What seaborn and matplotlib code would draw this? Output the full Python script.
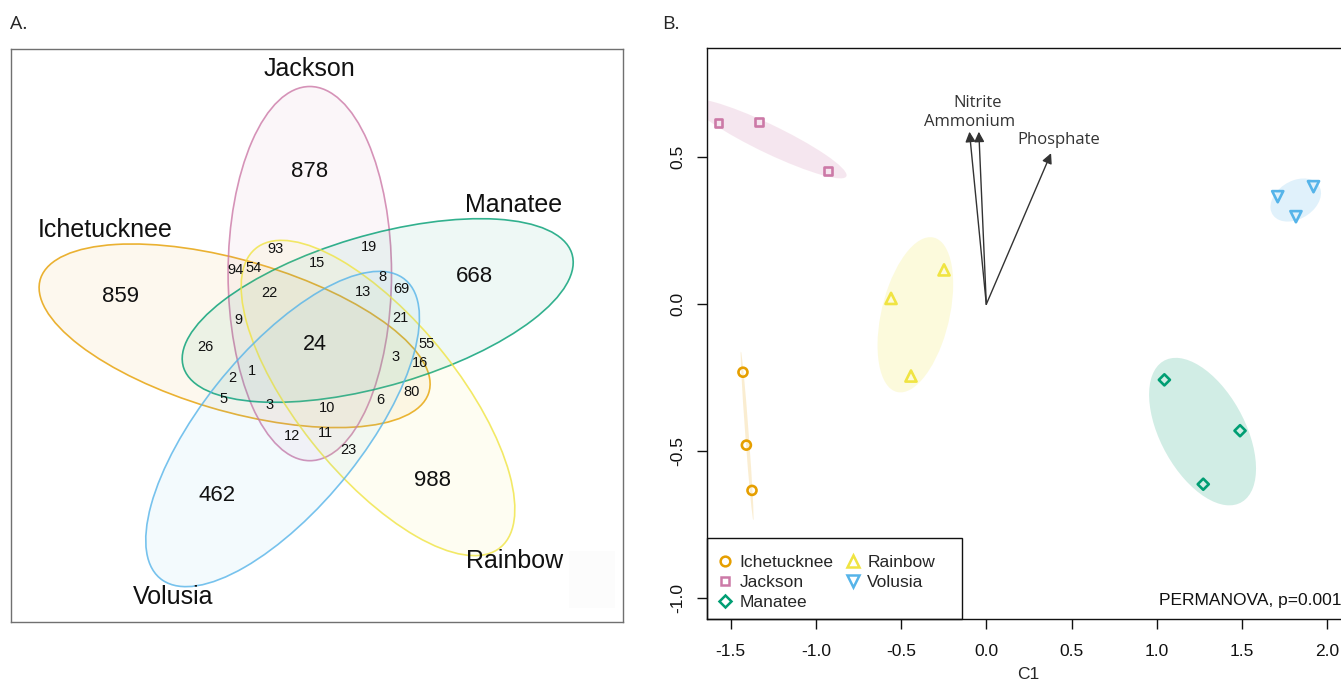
import numpy as np
import pandas as pd
import matplotlib
matplotlib.use("Agg")
import matplotlib.pyplot as plt
import seaborn as sns
from matplotlib.patches import Ellipse, Rectangle
from matplotlib.lines import Line2D

# ---------------- data ----------------
sites = ["Ichetucknee", "Jackson", "Manatee", "Rainbow", "Volusia"]
site_colors = ["#E69F00", "#CC79A7", "#009E73", "#F0E442", "#56B4E9"]

# Venn diagram counts (single-site regions first, then the core, then overlaps)
single_counts = [859, 878, 668, 988, 462]          # Ichetucknee, Jackson, Manatee, Rainbow, Volusia
core_count = 24
overlap_counts = [93, 94, 54, 15, 19, 8, 69, 22, 13, 9, 21, 26, 55, 3, 16,
                  1, 2, 5, 3, 10, 6, 80, 12, 11, 23]

# Ordination scores (C1, C2) per site
ich_c1 = [-1.428, -1.408, -1.375]; ich_c2 = [-0.231, -0.479, -0.633]
jac_c1 = [-1.572, -1.333, -0.930]; jac_c2 = [0.616, 0.621, 0.453]
man_c1 = [1.045, 1.489, 1.273];    man_c2 = [-0.257, -0.430, -0.612]
rai_c1 = [-0.559, -0.248, -0.442]; rai_c2 = [0.020, 0.117, -0.244]
vol_c1 = [1.710, 1.817, 1.920];    vol_c2 = [0.366, 0.298, 0.400]

# Environmental vectors
vec_names = ["Nitrite", "Ammonium", "Phosphate"]
vec_c1 = [-0.044, -0.099, 0.380]
vec_c2 = [0.587, 0.587, 0.514]

xticks_b = [-1.5, -1.0, -0.5, 0.0, 0.5, 1.0, 1.5, 2.0]
yticks_b = [-1.0, -0.5, 0.0, 0.5]
stat_text = "PERMANOVA, p=0.001"

# ---------------- style ----------------
sns.set_style("ticks")
plt.rcParams["font.family"] = ["Liberation Sans", "DejaVu Sans"]
plt.rcParams["axes.unicode_minus"] = False

W, H = 1341, 684
fig = plt.figure(figsize=(W / 100, H / 100), dpi=100)


def fig_rect(x0, y0, x1, y1):
    return [x0 / W, 1 - y1 / H, (x1 - x0) / W, (y1 - y0) / H]


# ================= Panel A : Venn =================
ax_a = fig.add_axes(fig_rect(10.5, 48.9, 623, 622))
SX, CX, CY = 1.0895, 316.5, 349.4


def u(px):
    return (px - CX) / SX


def v(py):
    return CY - py


ax_a.set_xlim(u(10.5), u(623))
ax_a.set_ylim(v(622), v(48.9))
ax_a.set_xticks([]); ax_a.set_yticks([])
for s in ax_a.spines.values():
    s.set_color("#707070"); s.set_linewidth(1.0)

# layout of the five-set venn (pixel positions of ellipse centres)
ell_centers = [(234.6, 335.8), (309.8, 273.6), (377.7, 310.5), (378.0, 398.0), (282.6, 429.0)]
ell_angles = [-18, 90, 18, -54, 54]
A_semi, B_semi = 187.1, 75.0
for (px, py), ang, col in zip(ell_centers, ell_angles, site_colors):
    ax_a.add_patch(Ellipse((u(px), v(py)), 2 * A_semi, 2 * B_semi, angle=ang,
                           facecolor=col, alpha=0.065, edgecolor="none"))
    ax_a.add_patch(Ellipse((u(px), v(py)), 2 * A_semi, 2 * B_semi, angle=ang,
                           facecolor="none", edgecolor=col, alpha=0.8, lw=1.2))

ax_a.add_patch(Rectangle((u(569), v(608)), (614.5 - 569) / SX, 57,
                         facecolor="#fcfcfc", edgecolor="none"))

single_pos = [(120.4, 297), (309.3, 171.6), (474.3, 276), (432.2, 480.3), (216.8, 495.6)]
core_pos = (315, 345)
overlap_pos = [(275.3, 249), (235.7, 270), (253.3, 268.3), (316.7, 263.3), (369, 247.3),
               (382.7, 276.7), (401, 289), (269, 293.3), (363.3, 291.7), (238.3, 320),
               (400, 318.3), (205, 346.7), (426.7, 344), (395.7, 356.7), (420, 363.3),
               (252.3, 370.7), (232.3, 378.3), (223.3, 399.3), (270, 405), (326.7, 408.3),
               (380, 400.3), (411.7, 391.7), (292.3, 436), (325, 433.3), (348.3, 450)]
name_pos = [(105.2, 230.1), (309.3, 68.6), (513.5, 205.2), (514.3, 561.1), (173.4, 597.4)]

for cnt, (px, py) in zip(single_counts, single_pos):
    ax_a.text(u(px), v(py), str(cnt), ha="center", va="center", fontsize=16, color="#111111")
ax_a.text(u(core_pos[0]), v(core_pos[1]), str(core_count), ha="center", va="center",
          fontsize=15.5, color="#111111")
for cnt, (px, py) in zip(overlap_counts, overlap_pos):
    ax_a.text(u(px), v(py), str(cnt), ha="center", va="center", fontsize=10.5, color="#111111")
for name, (px, py) in zip(sites, name_pos):
    ax_a.text(u(px), v(py), name, ha="center", va="center", fontsize=18, color="#111111")

# ================= Panel B : ordination =================
ax_b = fig.add_axes(fig_rect(707.4, 48.3, 1348.6, 619))

c1_lists = [ich_c1, jac_c1, man_c1, rai_c1, vol_c1]
c2_lists = [ich_c2, jac_c2, man_c2, rai_c2, vol_c2]
markers = ["o", "s", "D", "^", "v"]
msizes = [42, 30, 32, 64, 64]

df = pd.concat([pd.DataFrame({"C1": a, "C2": b, "Site": s})
                for a, b, s in zip(c1_lists, c2_lists, sites)], ignore_index=True)

for s, col, m, sz in zip(sites, site_colors, markers, msizes):
    sns.scatterplot(data=df[df["Site"] == s], x="C1", y="C2", color=col, marker=m,
                    s=sz, ax=ax_b, legend=False, zorder=4)
for coll in ax_b.collections:
    fc = coll.get_facecolors()
    coll.set_edgecolors(fc)
    coll.set_facecolors("none")
    coll.set_linewidths(1.9)

# standard-error confidence ellipses (95%)
chi = np.sqrt(5.991464547107979)
for a, b, col in zip(c1_lists, c2_lists, site_colors):
    pts = np.column_stack([a, b])
    cov = np.cov(pts, rowvar=False) / len(a)
    vals, vecs = np.linalg.eigh(cov)
    order = vals.argsort()[::-1]
    vals, vecs = vals[order], vecs[:, order]
    w, h = 2 * chi * np.sqrt(np.clip(vals, 0, None))
    ang = np.degrees(np.arctan2(vecs[1, 0], vecs[0, 0]))
    ax_b.add_patch(Ellipse(pts.mean(0), w, h, angle=ang, facecolor=col,
                           alpha=0.18, edgecolor="none", zorder=1))

# environmental vectors
label_offsets = [(-0.7, 20.5), (0, 7.2), (5.8, 9.6)]
for name, x, y, off in zip(vec_names, vec_c1, vec_c2, label_offsets):
    ax_b.annotate("", xy=(x, y), xytext=(0, 0),
                  arrowprops=dict(arrowstyle="-|>", color="#333333", lw=1.0,
                                  mutation_scale=15, shrinkA=0, shrinkB=0), zorder=3)
    ax_b.annotate(name, xy=(x, y), xytext=off, textcoords="offset points",
                  ha="center", va="center", fontsize=12, color="#333333",
                  family=["Open Sans", "DejaVu Sans"])

ax_b.set_xlim(-1.6367, 2.126)
ax_b.set_ylim(-1.0704, 0.8707)
ax_b.set_xticks(xticks_b)
ax_b.set_xticklabels([f"{t:.1f}" for t in xticks_b])
ax_b.set_yticks(yticks_b)
ax_b.set_yticklabels([f"{t:.1f}" for t in yticks_b], rotation=90, va="center")
ax_b.tick_params(axis="both", direction="out", length=7, width=1, labelsize=12.5,
                 colors="#111111")
ax_b.tick_params(axis="x", pad=11)
ax_b.tick_params(axis="y", pad=9)
ax_b.set_xlabel("C1", fontsize=12.5, labelpad=6)
ax_b.set_ylabel("")
for s in ax_b.spines.values():
    s.set_visible(True); s.set_color("#111111"); s.set_linewidth(1.0)

ax_b.text(2.0816, -1.0058, stat_text, ha="right", va="center", fontsize=12.5, color="#111111")

# legend
handles = [Line2D([], [], linestyle="none", marker=m, markersize=ms, markerfacecolor="none",
                  markeredgecolor=c, markeredgewidth=1.8)
           for m, c, ms in zip(markers, site_colors, [7, 6, 6, 9, 9])]
leg = ax_b.legend(handles, sites, loc="lower left", bbox_to_anchor=(0, 0), ncol=2,
                  frameon=False, fontsize=12.5, borderaxespad=0, borderpad=0.5,
                  handlelength=1.0, handletextpad=0.35, columnspacing=0.6,
                  labelspacing=0.3)
# legend frame as in the reference
x1 = (961.5 - 707.4) / (1348.6 - 707.4)
y1 = (619 - 538.3) / (619 - 48.3)
ax_b.add_patch(Rectangle((0, 0), x1, y1, transform=ax_b.transAxes, facecolor="none",
                         edgecolor="#111111", lw=1.0, zorder=5, clip_on=False))

# panel labels
fig.text(10 / W, 1 - 24 / H, "A.", ha="left", va="center", fontsize=14,
         family=["Open Sans", "DejaVu Sans"])
fig.text(662 / W, 1 - 24 / H, "B.", ha="left", va="center", fontsize=14,
         family=["Open Sans", "DejaVu Sans"])

fig.savefig("out.png", dpi=100)
